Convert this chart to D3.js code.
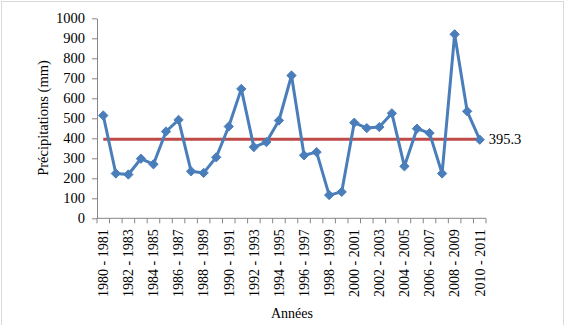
<!DOCTYPE html>
<html><head><meta charset="utf-8">
<script src="https://cdn.jsdelivr.net/npm/d3@7"></script>
<style>html,body{margin:0;padding:0;background:#fff;}svg{display:block;}</style>
</head><body>
<script>
const categories = ["1980 - 1981","1981 - 1982","1982 - 1983","1983 - 1984","1984 - 1985","1985 - 1986","1986 - 1987","1987 - 1988","1988 - 1989","1989 - 1990","1990 - 1991","1991 - 1992","1992 - 1993","1993 - 1994","1994 - 1995","1995 - 1996","1996 - 1997","1997 - 1998","1998 - 1999","1999 - 2000","2000 - 2001","2001 - 2002","2002 - 2003","2003 - 2004","2004 - 2005","2005 - 2006","2006 - 2007","2007 - 2008","2008 - 2009","2009 - 2010","2010 - 2011"];
const values = [514,224,219,298,270,434,492,235,227,305,459,647,356,381,489,714,315,331,116,132,478,451,456,525,260,448,426,224,920,535,393];
const meanValue = 395.3;
const yTicks = [0,100,200,300,400,500,600,700,800,900,1000];

(function(){
const W = 568, H = 325;
const svg = d3.select("body").append("svg").attr("width", W).attr("height", H);
svg.append("rect").attr("x",1.5).attr("y",1.5).attr("width",562).attr("height",330)
  .attr("fill","#fff").attr("stroke","#d9d9d9").attr("stroke-width",1);

const pL = 97, pR = 486, pT = 18.3, pB = 218.3;
const x = d3.scaleBand().domain(categories).range([pL, pR]).paddingInner(0).paddingOuter(0);
const y = d3.scaleLinear().domain([0,1000]).range([pB, pT]);
const font = '"Liberation Serif", "Times New Roman", Times, serif';

// Y axis
const yAxis = svg.append("g").attr("transform",`translate(${pL},0)`)
  .call(d3.axisLeft(y).tickValues(yTicks).tickFormat(d3.format("d")).tickSize(5).tickSizeOuter(0).tickPadding(7));
yAxis.select(".domain").attr("stroke","#868686");
yAxis.selectAll(".tick line").attr("stroke","#868686");
yAxis.selectAll(".tick text").style("font-family",font).style("font-size","14.5px").attr("fill","#000");

// X axis
const xg = svg.append("g").attr("transform",`translate(0,${pB})`);
xg.append("line").attr("x1",pL).attr("x2",pR).attr("stroke","#868686");
const bounds = categories.map(c => x(c)).concat([pR]);
xg.selectAll("line.tk").data(bounds).enter().append("line").attr("class","tk")
  .attr("x1",d=>d).attr("x2",d=>d).attr("y1",0).attr("y2",5).attr("stroke","#868686");
xg.selectAll("text").data(categories.filter((c,i)=>i%2===0)).enter().append("text")
  .attr("transform",d=>`translate(${x(d)+x.bandwidth()/2+4.8},11) rotate(-90)`)
  .attr("text-anchor","end").style("font-family",font).style("font-size","14px").attr("fill","#000")
  .text(d=>d);

// Axis titles
svg.append("text").attr("x",292).attr("y",318).attr("text-anchor","middle")
  .style("font-family",font).style("font-size","14px").text("Années");
svg.append("text").attr("transform",`translate(48,118) rotate(-90)`).attr("text-anchor","middle")
  .style("font-family",font).style("font-size","14.5px").text("Précipitations (mm)");

const cx = d => x(d) + x.bandwidth()/2;

// Mean line
svg.append("line").attr("x1",cx(categories[0])).attr("x2",cx(categories[categories.length-1]))
  .attr("y1",y(meanValue)).attr("y2",y(meanValue)).attr("stroke","#be4b48").attr("stroke-width",3);

// Series line
const line = d3.line().x((d,i)=>cx(categories[i])).y(d=>y(d));
svg.append("path").datum(values).attr("d",line).attr("fill","none")
  .attr("stroke","#4a7ebb").attr("stroke-width",3).attr("stroke-linejoin","round");
svg.selectAll("path.m").data(values).enter().append("path").attr("class","m")
  .attr("d", d3.symbol().type(d3.symbolDiamond2).size(55))
  .attr("transform",(d,i)=>`translate(${cx(categories[i])},${y(d)})`)
  .attr("fill","#4a7ebb").attr("stroke","#4a7ebb").attr("stroke-width",1);

// Mean label
svg.append("text").attr("x",cx(categories[categories.length-1])+9).attr("y",y(meanValue)+5)
  .style("font-family",font).style("font-size","14.5px").text(meanValue.toFixed(1));
})();
</script>
</body></html>
